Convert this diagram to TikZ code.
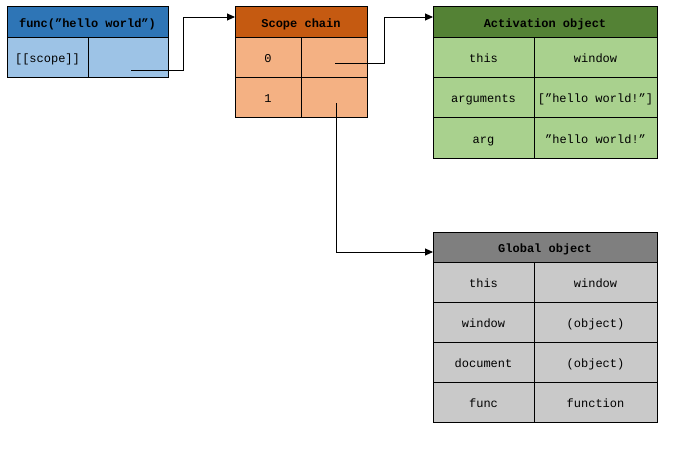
\documentclass[tikz,border=0pt]{standalone}
\usepackage{fontspec}
\setmainfont{Liberation Mono}
\usetikzlibrary{arrows.meta}
\definecolor{fh}{HTML}{2E75B6}\definecolor{fr}{HTML}{9DC3E6}
\definecolor{sh}{HTML}{C55A11}\definecolor{sr}{HTML}{F4B183}
\definecolor{ah}{HTML}{548235}\definecolor{ar}{HTML}{A9D18E}
\definecolor{gh}{HTML}{7F7F7F}\definecolor{gr}{HTML}{C9C9C9}
\begin{document}
\begin{tikzpicture}[x=1pt,y=-1pt,
  cell/.style={draw=black,line width=0.9pt,inner sep=0pt,outer sep=0pt,anchor=north west,text height=11.5pt,text depth=0pt,font=\fontsize{12}{14}\selectfont},
  head/.style={cell,font=\fontsize{12}{14}\selectfont\bfseries},
  conn/.style={draw=black,line width=0.9pt,-{Triangle[length=8pt,width=7pt]}}]
\useasboundingbox (0,0) rectangle (682,448);
% func box
\node[head,fill=fh,minimum width=161,minimum height=31] (fh) at (7,6) {func(\char"201Dhello world\char"201D)};
\node[cell,fill=fr,minimum width=81,minimum height=40] (fk) at (7,37) {[[scope]]};
\node[cell,fill=fr,minimum width=80,minimum height=40] (fv) at (88,37) {};
% scope chain
\node[head,fill=sh,minimum width=132,minimum height=31] (sh) at (235,6) {Scope chain};
\node[cell,fill=sr,minimum width=66,minimum height=40] (s0k) at (235,37) {0};
\node[cell,fill=sr,minimum width=66,minimum height=40] (s0v) at (301,37) {};
\node[cell,fill=sr,minimum width=66,minimum height=40] (s1k) at (235,77) {1};
\node[cell,fill=sr,minimum width=66,minimum height=40] (s1v) at (301,77) {};
% activation object
\node[head,fill=ah,minimum width=224,minimum height=31] (ah) at (433,6) {Activation object};
\node[cell,fill=ar,minimum width=101,minimum height=40] (a1k) at (433,37) {this};
\node[cell,fill=ar,minimum width=123,minimum height=40] (a1v) at (534,37) {window};
\node[cell,fill=ar,minimum width=101,minimum height=40] (a2k) at (433,77) {arguments};
\node[cell,fill=ar,minimum width=123,minimum height=40] (a2v) at (534,77) {[\char"201Dhello world!\char"201D]};
\node[cell,fill=ar,minimum width=101,minimum height=41] (a3k) at (433,117) {arg};
\node[cell,fill=ar,minimum width=123,minimum height=41] (a3v) at (534,117) {\char"201Dhello world!\char"201D};
% global object
\node[head,fill=gh,minimum width=224,minimum height=30] (gh) at (433,232) {Global object};
\node[cell,fill=gr,minimum width=101,minimum height=40] (g1k) at (433,262) {this};
\node[cell,fill=gr,minimum width=123,minimum height=40] (g1v) at (534,262) {window};
\node[cell,fill=gr,minimum width=101,minimum height=40] (g2k) at (433,302) {window};
\node[cell,fill=gr,minimum width=123,minimum height=40] (g2v) at (534,302) {(object)};
\node[cell,fill=gr,minimum width=101,minimum height=40] (g3k) at (433,342) {document};
\node[cell,fill=gr,minimum width=123,minimum height=40] (g3v) at (534,342) {(object)};
\node[cell,fill=gr,minimum width=101,minimum height=40] (g4k) at (433,382) {func};
\node[cell,fill=gr,minimum width=123,minimum height=40] (g4v) at (534,382) {function};
% connectors
\coordinate (c1) at (131,70);
\coordinate (t1) at (235,17);
\coordinate (c2) at (335,63);
\coordinate (t2) at (433,17);
\coordinate (c3) at (336,103);
\coordinate (t3) at (433,252);
\draw[conn] (c1) -- (183,70) |- (t1);
\draw[conn] (c2) -- (384,63) |- (t2);
\draw[conn] (c3) |- (t3);
\end{tikzpicture}
\end{document}
